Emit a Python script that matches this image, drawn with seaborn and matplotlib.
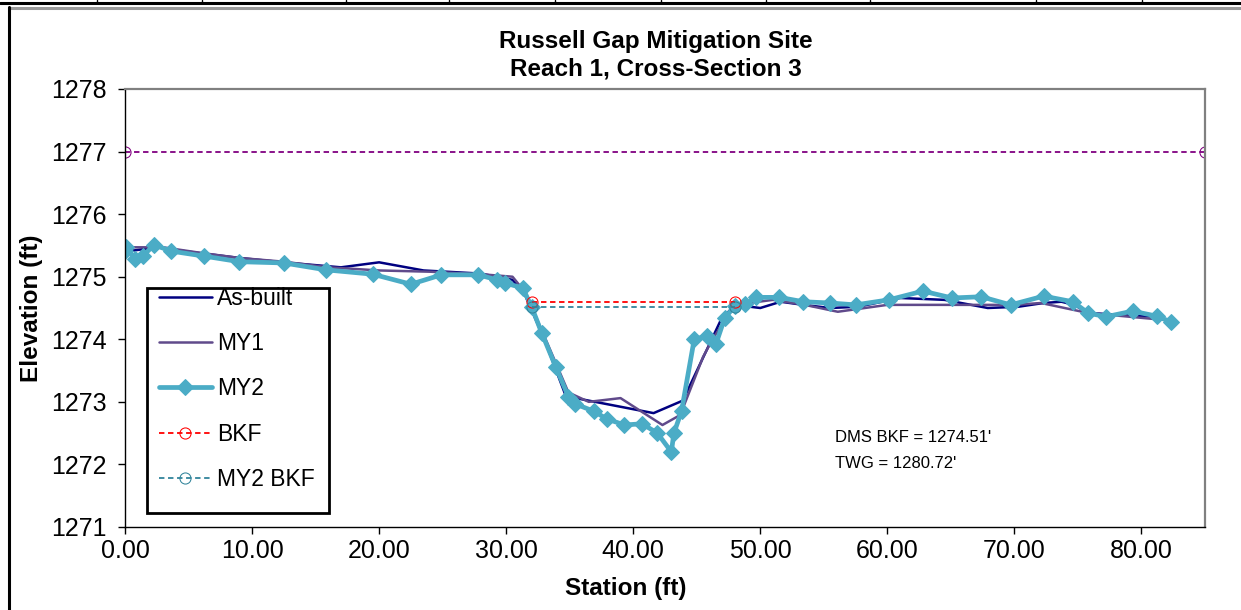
import matplotlib
matplotlib.use("Agg")
import matplotlib.pyplot as plt
from matplotlib.lines import Line2D
from matplotlib.patches import Rectangle
import seaborn as sns

# ---- survey data ----------------------------------------------------------
asbuilt_sta = [0.0, 2.5, 5.0, 9.0, 13.0, 17.0, 20.0, 23.5, 28.0, 30.5, 31.5, 33.0,
               34.7, 41.6, 43.9, 46.9, 48.0, 50.0, 51.6, 53.4, 55.5, 57.7, 61.0,
               64.5, 67.9, 70.3, 72.3, 73.7, 74.7, 75.8, 81.3, 82.3]
asbuilt_elev = [1275.40, 1275.47, 1275.40, 1275.30, 1275.22, 1275.15, 1275.23, 1275.10,
                1275.05, 1274.95, 1274.70, 1274.00, 1273.09, 1272.82, 1273.02, 1274.31,
                1274.55, 1274.50, 1274.60, 1274.55, 1274.50, 1274.52, 1274.66, 1274.63,
                1274.50, 1274.52, 1274.58, 1274.60, 1274.55, 1274.42, 1274.36, 1274.28]

my1_sta = [0.0, 3.0, 6.0, 9.0, 12.5, 16.0, 20.0, 24.0, 28.0, 30.5, 31.5, 33.0, 34.9,
           36.5, 39.0, 42.3, 43.7, 45.5, 46.3, 48.0, 51.0, 53.5, 56.1, 60.0, 65.0,
           70.0, 72.1, 75.8, 78.0, 82.3]
my1_elev = [1275.47, 1275.47, 1275.38, 1275.30, 1275.24, 1275.15, 1275.10, 1275.08,
            1275.04, 1275.00, 1274.75, 1274.05, 1273.15, 1273.00, 1273.06, 1272.63,
            1272.79, 1273.72, 1274.02, 1274.55, 1274.63, 1274.55, 1274.44, 1274.55,
            1274.55, 1274.55, 1274.58, 1274.42, 1274.38, 1274.30]

my2_sta = [0.0, 0.1, 0.8, 1.4, 2.3, 3.6, 6.2, 9.0, 12.5, 15.8, 19.5, 22.5, 24.9, 27.8,
           29.3, 29.9, 31.3, 32.0, 32.8, 33.9, 34.9, 35.4, 36.9, 37.9, 39.3, 40.7,
           41.9, 43.0, 43.2, 43.8, 44.8, 45.8, 46.5, 47.2, 48.0, 48.8, 49.7, 51.5,
           53.4, 55.5, 57.5, 60.1, 62.8, 65.1, 67.4, 69.7, 72.3, 74.6, 75.8, 77.2,
           79.3, 81.2, 82.3]
my2_elev = [1275.41, 1275.47, 1275.28, 1275.33, 1275.51, 1275.41, 1275.33, 1275.24,
            1275.22, 1275.11, 1275.04, 1274.88, 1275.03, 1275.03, 1274.95, 1274.90,
            1274.82, 1274.52, 1274.10, 1273.56, 1273.08, 1272.97, 1272.85, 1272.73,
            1272.63, 1272.65, 1272.50, 1272.20, 1272.50, 1272.85, 1274.00, 1274.05,
            1273.92, 1274.34, 1274.53, 1274.56, 1274.67, 1274.67, 1274.60, 1274.58,
            1274.55, 1274.63, 1274.77, 1274.66, 1274.68, 1274.55, 1274.69, 1274.60,
            1274.42, 1274.36, 1274.45, 1274.37, 1274.28]

bkf_sta = [32.0, 48.0]
bkf_elev = [1274.60, 1274.60]
my2_bkf_sta = [32.0, 48.0]
my2_bkf_elev = [1274.51, 1274.51]
top_sta = [0.0, 85.0]
top_elev = [1277.0, 1277.0]

x_ticks = [0, 10, 20, 30, 40, 50, 60, 70, 80]
y_ticks = [1271, 1272, 1273, 1274, 1275, 1276, 1277, 1278]

dms_bkf = 1274.51
twg = 1280.72

# ---- styling --------------------------------------------------------------
sns.set_style("white")
plt.rcParams["font.family"] = ["Liberation Sans", "DejaVu Sans"]
plt.rcParams["text.color"] = "black"
plt.rcParams["axes.labelcolor"] = "black"
plt.rcParams["xtick.color"] = "black"
plt.rcParams["ytick.color"] = "black"

W, H = 1241, 610
AX_L, AX_R, AX_T, AX_B = 125, 1205, 89, 527
AW, AH = AX_R - AX_L, AX_B - AX_T


def ax_x(px):
    return (px - AX_L) / AW


def ax_y(py):
    return (AX_B - py) / AH


fig = plt.figure(figsize=(W / 100, H / 100), dpi=100)
ax = fig.add_axes([AX_L / W, 1 - AX_B / H, AW / W, AH / H])

sns.lineplot(x=asbuilt_sta, y=asbuilt_elev, sort=False, estimator=None, ax=ax,
             color="#000080", lw=1.8, label="As-built")
sns.lineplot(x=my1_sta, y=my1_elev, sort=False, estimator=None, ax=ax,
             color="#604A8B", lw=1.8, label="MY1")
sns.lineplot(x=my2_sta, y=my2_elev, sort=False, estimator=None, ax=ax,
             color="#4BACC6", lw=3.4, marker="D", ms=8.5, mec="#4BACC6",
             label="MY2")
sns.lineplot(x=bkf_sta, y=bkf_elev, sort=False, estimator=None, ax=ax,
             color="#FF0000", lw=1.3, ls=(0, (3, 2)), marker="o", ms=8,
             mfc="none", mec="#FF0000", label="BKF")
sns.lineplot(x=my2_bkf_sta, y=my2_bkf_elev, sort=False, estimator=None, ax=ax,
             color="#31849B", lw=1.3, ls=(0, (3, 2)), marker="o", ms=8,
             mfc="none", mec="#31849B", label="MY2 BKF")
sns.lineplot(x=top_sta, y=top_elev, sort=False, estimator=None, ax=ax,
             color="#800080", lw=1.3, ls=(0, (3, 2)), marker="o", ms=8,
             mfc="none", mec="#800080")

ax.set_xlim(0, 85)
ax.set_ylim(1271, 1278)
ax.set_xticks(x_ticks)
ax.set_xticklabels([f"{v:.2f}" for v in x_ticks])
ax.set_yticks(y_ticks)
ax.set_yticklabels([str(v) for v in y_ticks])
ax.tick_params(axis="both", direction="out", length=5, width=1, color="black",
               labelcolor="black", labelsize=18, left=True, bottom=True)
ax.tick_params(axis="y", pad=8)
ax.tick_params(axis="x", pad=4)

for side in ("left", "bottom"):
    ax.spines[side].set_color("black")
    ax.spines[side].set_linewidth(1.0)
for side in ("top", "right"):
    ax.spines[side].set_color("#808080")
    ax.spines[side].set_linewidth(1.6)

ax.set_xlabel("Station (ft)", fontsize=17.5, fontweight="bold", color="black")
ax.set_ylabel("Elevation (ft)", fontsize=17.5, fontweight="bold", color="black")
ax.xaxis.set_label_coords(ax_x(626), ax_y(577))
ax.yaxis.set_label_coords(ax_x(43), 0.5)

fig.text(656 / W, 1 - 55 / H, "Russell Gap Mitigation Site\nReach 1, Cross-Section 3",
         ha="center", va="center", fontsize=17.5, fontweight="bold", linespacing=1.23,
         color="black")

ax.text(ax_x(835), ax_y(437), f"DMS BKF = {dms_bkf:.2f}'",
        transform=ax.transAxes, fontsize=12, va="center", ha="left", color="black")
ax.text(ax_x(835), ax_y(464), f"TWG = {twg:.2f}'",
        transform=ax.transAxes, fontsize=12, va="center", ha="left", color="black")

# legend box with white fill, legend entries drawn on top of it
box = Rectangle((ax_x(147), ax_y(513)), ax_x(329) - ax_x(147), ax_y(288) - ax_y(513),
                transform=ax.transAxes, facecolor="white", edgecolor="black",
                lw=2.0, zorder=4.5)
ax.add_patch(box)
leg = ax.legend(loc="upper left", bbox_to_anchor=(ax_x(159), ax_y(287)),
                fontsize=16.5, frameon=False, borderaxespad=0, borderpad=0,
                handlelength=2.3, handletextpad=0.22, labelspacing=0.97)
for t in leg.get_texts():
    t.set_color("black")
leg.set_zorder(5)

# page frame around the chart
fig.add_artist(Line2D([0, 1], [1 - 2.5 / H, 1 - 2.5 / H], color="black", lw=2.2))
for xp in [97, 202, 346, 449, 555, 661, 766, 870, 1036, 1142]:
    fig.add_artist(Line2D([xp / W, xp / W], [1, 1 - 3 / H], color="black", lw=1))
fig.add_artist(Line2D([9 / W, 1], [1 - 8 / H, 1 - 8 / H], color="#9A9A9A", lw=2.2))
fig.add_artist(Line2D([9 / W, 9 / W], [1 - 7 / H, 0], color="black", lw=2.2))

fig.savefig("out.png", dpi=100)
